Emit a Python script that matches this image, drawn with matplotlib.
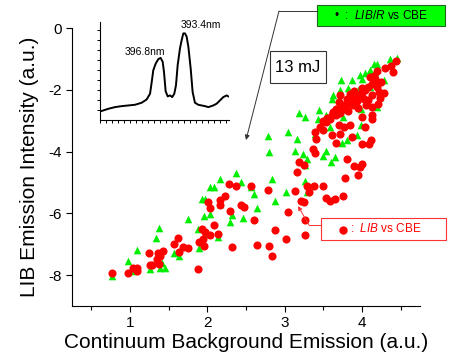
import numpy as np
import matplotlib
matplotlib.use("Agg")
import matplotlib.pyplot as plt
from matplotlib.patches import Rectangle
from matplotlib.lines import Line2D

plt.rcParams['font.family'] = ['Liberation Sans', 'DejaVu Sans']
plt.rcParams['mathtext.fontset'] = 'custom'
plt.rcParams['mathtext.rm'] = 'Liberation Sans'
plt.rcParams['mathtext.it'] = 'Liberation Sans:italic'
plt.rcParams['axes.unicode_minus'] = False

# LIB/R vs CBE (green triangles)
libr_x = [1.93, 1.97, 2.03, 1.96, 1.75, 1.37, 1.34, 1.09, 0.97, 0.77, 1.04, 1.26, 1.39, 1.45,
          1.57, 1.64, 1.89, 1.88, 1.97, 1.41, 2.79, 3.04, 3.16, 2.80, 3.14, 3.24, 3.29, 3.26,
          2.37, 2.17, 2.44, 2.84, 3.26, 2.03, 2.08, 2.57, 2.60, 3.02, 3.29, 2.88, 2.64, 2.17,
          2.32, 2.46, 2.29, 2.14, 4.36, 4.45, 4.16, 4.20, 4.10, 3.98, 4.04, 4.17, 4.28, 3.73,
          3.87, 4.00, 3.82, 3.72, 3.63, 3.61, 4.23, 4.19, 3.44, 3.54, 3.43, 3.76, 3.99, 3.99,
          3.39, 3.26, 3.74, 3.80, 3.93, 3.19, 3.50, 3.54, 3.65, 3.60, 3.59, 3.95, 4.10, 3.70]
libr_y = [-5.54, -5.54, -6.01, -6.08, -6.19, -6.46, -6.79, -7.20, -7.54, -8.03, -7.87, -7.81,
          -7.76, -7.76, -7.27, -7.38, -7.13, -6.51, -6.68, -7.60, -3.51, -3.37, -3.59, -4.00,
          -3.97, -4.07, -4.24, -4.43, -4.71, -4.89, -4.98, -4.89, -4.94, -5.14, -5.14, -5.14,
          -5.38, -5.30, -5.32, -5.59, -5.83, -5.70, -6.06, -6.14, -6.28, -6.76, -1.01, -0.97,
          -1.15, -1.15, -1.37, -1.51, -1.47, -1.42, -1.67, -1.69, -1.69, -1.64, -1.94, -2.02,
          -2.18, -2.31, -2.23, -2.56, -2.67, -2.83, -2.96, -2.88, -2.61, -3.15, -3.42, -2.88,
          -3.72, -3.64, -3.48, -2.75, -4.13, -3.97, -4.19, -4.35, -3.21, -2.00, -1.90, -2.50]

# LIB vs CBE (red circles)
lib_x = [2.01, 2.03, 2.08, 1.93, 1.97, 2.03, 1.95, 1.89, 1.96, 1.62, 1.57, 1.68, 1.75, 1.64,
         1.25, 1.36, 1.43, 1.39, 1.35, 1.37, 1.26, 1.29, 1.09, 1.04, 1.09, 0.98, 0.77, 1.88,
         3.19, 3.16, 2.28, 2.37, 2.57, 2.79, 3.14, 3.29, 3.31, 2.23, 2.17, 2.17, 2.43, 2.47,
         2.29, 3.21, 3.25, 3.04, 2.60, 3.26, 2.88, 3.26, 3.02, 2.14, 2.32, 2.64, 2.80, 2.84,
         4.44, 4.37, 4.40, 4.20, 4.17, 4.13, 4.08, 4.04, 4.00, 3.95, 3.91, 3.85, 3.80, 3.74,
         3.67, 3.63, 3.61, 3.67, 3.76, 3.89, 3.72, 4.13, 4.08, 4.13, 4.28, 4.22, 4.13, 4.13,
         4.04, 4.00, 3.54, 3.46, 3.70, 3.77, 3.85, 3.87, 3.61, 3.71, 3.41, 3.39, 3.66, 4.00,
         4.11, 4.23, 4.21, 4.09, 3.37, 3.39, 3.25, 3.80, 3.90, 3.98, 4.00, 3.95, 3.78, 3.38,
         3.50, 3.54, 3.59, 3.65, 3.75, 3.90, 4.00, 4.10, 4.15, 3.80, 3.70, 3.55, 3.50, 4.05,
         3.95, 4.20, 4.25, 3.58, 3.65, 3.85, 3.93, 4.02, 4.17, 4.30, 3.50, 3.72, 3.82]
lib_y = [-5.62, -5.83, -6.38, -6.51, -6.59, -6.71, -6.84, -6.92, -7.06, -6.79, -7.00, -7.09,
         -7.11, -7.25, -7.27, -7.27, -7.22, -7.38, -7.49, -7.65, -7.67, -7.67, -7.76, -7.76,
         -7.87, -7.93, -7.93, -7.80, -4.35, -4.67, -5.05, -5.13, -5.11, -5.24, -5.29, -5.13,
         -5.32, -5.43, -5.57, -5.73, -5.73, -5.79, -5.92, -5.59, -5.63, -5.97, -6.22, -6.20,
         -6.54, -6.70, -6.84, -6.68, -7.08, -7.02, -7.06, -7.38, -1.07, -1.23, -1.42, -1.40,
         -1.64, -1.80, -1.91, -2.02, -2.12, -2.18, -2.29, -2.34, -2.45, -2.50, -2.61, -2.72,
         -2.83, -2.83, -2.61, -2.50, -2.18, -2.18, -2.34, -2.56, -2.12, -2.07, -2.83, -2.94,
         -3.21, -2.88, -3.05, -3.21, -3.15, -3.21, -3.13, -3.53, -3.46, -3.42, -3.59, -3.37,
         -3.72, -3.75, -3.61, -2.25, -2.45, -3.77, -3.91, -4.06, -4.42, -4.24, -4.46, -4.51,
         -4.40, -4.76, -4.86, -5.13, -5.11, -5.49, -5.59, -5.54, -5.45, -2.05, -1.95, -1.60,
         -1.55, -2.30, -2.40, -2.90, -3.00, -2.50, -2.60, -1.90, -1.75, -2.95, -2.70, -2.15,
         -2.35, -2.30, -1.72, -1.30, -3.30, -2.75, -2.70]

# inset spectrum (arbitrary units)
spec_u = [0, 6.5, 11.6, 16.8, 21.9, 27.1, 32.3, 36.2, 38.8, 40.1, 41.3, 43.2, 45.2, 47.0,
          48.6, 49.6, 50.9, 52.5, 54.3, 56.0, 57.6, 58.9, 60.2, 62.0, 63.3, 64.6, 65.9, 67.2,
          68.5, 70.3, 71.8, 73.6, 76.2, 78.8, 81.4, 84.0, 87.8, 90.4, 93.0, 95.6, 98.2, 99.5]
spec_v = [8.2, 11.0, 12.7, 13.7, 14.4, 15.1, 17.2, 20.6, 26.5, 38.5, 50.5, 57.4, 61.9, 63.2,
          59.1, 48.8, 28.9, 23.7, 24.7, 23.0, 26.5, 35.1, 55.7, 72.9, 81.4, 88.3, 88.3, 84.8,
          74.6, 52.2, 28.2, 17.2, 15.1, 14.4, 13.7, 12.7, 14.4, 16.2, 19.6, 23.0, 24.7, 23.7]

W, H = 456, 356
fig = plt.figure(figsize=(W / 100, H / 100), dpi=100)

def fp(x, y):
    return (x / W, 1 - y / H)

ax = fig.add_axes([72 / W, 1 - 306 / H, 348 / W, 278 / H])
ax.scatter(libr_x, libr_y, marker='^', s=30, color='#00ee00', linewidths=0, zorder=2)
ax.scatter(lib_x, lib_y, marker='o', s=34, color='#ff0000', linewidths=0, zorder=3)
ax.set_xlim(0.25, 4.75)
ax.set_ylim(-9, 0)
ax.set_xticks([1, 2, 3, 4])
ax.set_xticks([0.5, 1.5, 2.5, 3.5, 4.5], minor=True)
ax.set_yticks([0, -2, -4, -6, -8])
ax.spines['top'].set_visible(False)
ax.spines['right'].set_visible(False)
ax.tick_params(axis='both', which='major', length=4, width=0.8, labelsize=11, pad=3)
ax.tick_params(axis='x', which='minor', length=3, width=0.8)
ax.set_xlabel('Continuum Background Emission (a.u.)', fontsize=15, labelpad=2)
ax.set_ylabel('LIB Emission Intensity (a.u.)', fontsize=15, labelpad=7)

# inset
ins = fig.add_axes([100 / W, 1 - 119.5 / H, 129 / W, 97.5 / H])
ins.plot(spec_u, spec_v, color='black', lw=1.4)
ins.set_xlim(0, 100)
ins.set_ylim(0, 100)
ins.set_xticks(np.arange(0, 101, 4.65))
ins.set_yticks(np.arange(9.6, 100, 10.3))
ins.set_xticklabels([])
ins.set_yticklabels([])
ins.tick_params(length=2, width=0.7)
ins.spines['top'].set_visible(False)
ins.spines['right'].set_visible(False)
ins.patch.set_alpha(0)
ins.text(35, 69, '396.8nm', fontsize=7.5, ha='center', va='center')
ins.text(78, 97, '393.4nm', fontsize=7.5, ha='center', va='center')

# green legend box with arrow
fig.add_artist(Rectangle(fp(317, 26), 128 / W, 21 / H, facecolor='#00ff00',
                         edgecolor='#226622', lw=0.8))
fig.text(*fp(381, 15.5), r'•  :  $\mathit{LIB/R}$ vs CBE', fontsize=8.5, ha='center', va='center')
fig.add_artist(Line2D([317 / W, 279 / W], [1 - 11 / H, 1 - 11 / H], color='#333333', lw=0.7))
ax.annotate('', xy=fp(246, 140), xytext=fp(279, 11), xycoords='figure fraction',
            arrowprops=dict(arrowstyle='-|>', color='#333333', lw=0.7,
                            mutation_scale=7, shrinkA=0, shrinkB=0))

# 13 mJ box
fig.add_artist(Rectangle(fp(270, 83), 56 / W, 32 / H, facecolor='white',
                         edgecolor='#333333', lw=0.8))
fig.text(*fp(298, 67.5), '13 mJ', fontsize=12, ha='center', va='center')

# red legend box with arrow
fig.add_artist(Rectangle(fp(321, 240), 125 / W, 22 / H, facecolor='white',
                         edgecolor='#ff3333', lw=0.8))
fig.add_artist(Line2D([343 / W], [1 - 229.5 / H], marker='o', markersize=5,
                      color='#ff0000', lw=0))
fig.text(*fp(350, 229), r':  $\mathit{LIB}$ vs CBE', fontsize=8.5, color='#ff0000',
         ha='left', va='center')
fig.add_artist(Line2D([321 / W, 309 / W], [1 - 225 / H, 1 - 225 / H], color='#ff3333', lw=0.7))
ax.annotate('', xy=fp(298, 206), xytext=fp(309, 225), xycoords='figure fraction',
            arrowprops=dict(arrowstyle='-|>', color='#ff3333', lw=0.7,
                            mutation_scale=6, shrinkA=0, shrinkB=0))

fig.savefig('out.png', dpi=100)
